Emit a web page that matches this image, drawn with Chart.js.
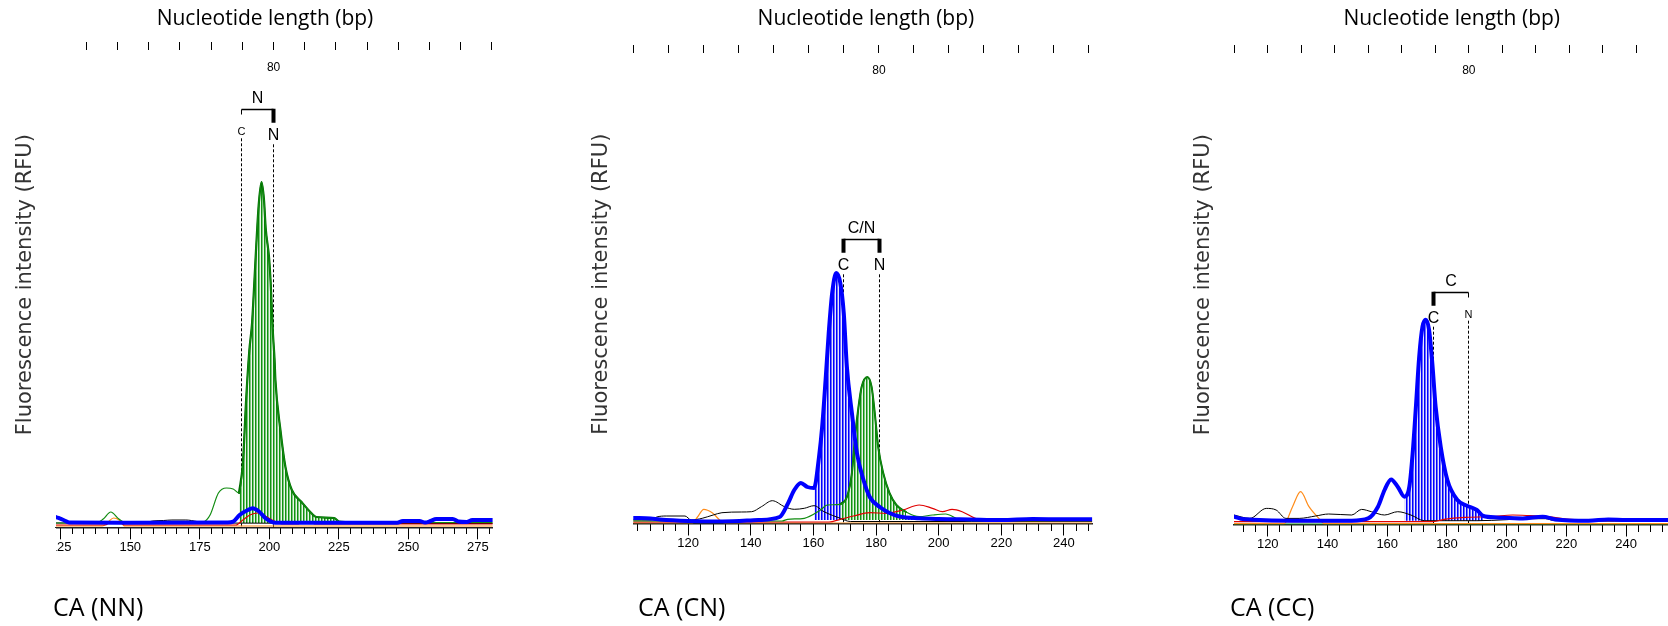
<!DOCTYPE html>
<html>
<head>
<meta charset="utf-8">
<title>CA genotype electropherograms</title>
<script src="https://cdn.jsdelivr.net/npm/chart.js@4.4.1/dist/chart.umd.min.js"></script>
<style>
    html, body { margin: 0; padding: 0; background: #ffffff; overflow: hidden; }
    #page { position: relative; width: 1668px; height: 626px; overflow: hidden; }
    #page canvas { position: absolute; top: 0; }
    .caption { position: absolute; top: 594px; font-family: 'Open Sans', sans-serif; font-size: 25px; line-height: 25px; color: #000; white-space: nowrap; }
</style>
</head>
<body>
<div id="page">
    <canvas id="chartNN"></canvas>
    <canvas id="chartCN"></canvas>
    <canvas id="chartCC"></canvas>
</div>
<script>
// Traces: [fragment size (bp), signal above baseline]

// CA (NN)
const nnGreen = [[123.3, 0], [137.7, 0], [140.3, 4], [143.0, 11], [145.9, 4], [148.8, 0], [174.0, 0], [176.4, 1], [178.7, 8], [181.7, 30], [184.6, 35], [187.0, 34], [189.1, 30], [190.5, 60], [191.7, 125], [192.8, 172], [193.8, 200], [194.6, 240], [195.2, 272], [195.8, 302], [196.3, 322], [197.2, 341], [198.1, 323], [198.7, 295], [199.9, 266], [200.5, 240], [201.3, 190], [201.9, 163], [202.2, 143], [204.0, 93], [205.8, 56], [208.1, 33], [211.6, 21], [215.1, 10], [216.9, 6], [223.3, 5], [225.1, 1.5], [231.4, 0.7], [240, 0.5], [280.3, 0.5]];
const nnBlue = [[123.3, 6], [126, 3], [128, 0.5], [150, 0.3], [185, 0.5], [187.0, 1.3], [189.3, 8], [192.3, 13], [194.0, 14.7], [196.3, 11.5], [198.7, 4.7], [202.2, 0.3], [246, 0.3], [248, 2], [254, 2], [256, 0.5], [258, 2], [260, 4], [266, 4], [268, 1.5], [271, 1], [273, 3], [280.3, 3]];
const nnRed = [[123.3, -2], [141, -2], [143, 1], [146, 1], [148, -2], [188, -2], [190.5, 3], [193, 8], [196, 10], [198.5, 7], [201, 3], [203.5, 0], [205, -1], [210.5, -1], [211, 1.5], [215.7, 1.5], [216.2, -1], [280.3, -1]];
const nnBlack = [[123.3, 0], [155, 0], [158, 2], [162, 2.5], [165, 3], [170, 3], [174, 1.5], [177, 0], [280.3, -0.5]];
const nnOrange = [[123.3, -3], [140, -3], [142, 1], [144, 5], [146, 3], [148, -3], [280.3, -3]];
const nnGreenCall = [189.1, 232];
const nnMarkers = [189.9, 201.2];

// CA (CN)
const cnBlue = [[102.5, 2], [108, 1.5], [111, 0.5], [120, -1], [131, -1.5], [142.4, 0], [149.2, 3], [151.8, 16], [153.9, 30], [156.0, 37], [158.1, 33], [160.2, 32], [161.8, 63], [162.8, 93], [163.9, 140], [164.9, 187], [166.0, 227], [167.3, 247], [168.6, 237], [169.7, 207], [170.7, 153], [172.3, 107], [173.9, 67], [176.0, 40], [178.0, 23], [181.2, 13], [184.3, 7], [187.5, 3.5], [193.8, 1.7], [200, 1], [210, 0.5], [220, 0], [230, 1], [240, 0.7], [249, 0.7]];
const cnGreen = [[102.5, -1], [150, -1], [151.8, 0.7], [157.1, 1.7], [162.3, 10], [164.4, 15], [168.6, 15.7], [170.7, 23], [172.3, 47], [173.3, 83], [174.4, 113], [175.4, 133], [177.2, 143], [178.6, 133], [179.6, 107], [180.7, 73], [182.3, 47], [184.3, 27], [186.5, 15], [189.6, 8], [193.8, 3.3], [198.0, 5], [202.2, 6], [206.4, 0.7], [212, -1], [249, -1]];
const cnBlack = [[102.5, 0], [108, 0], [110, 3], [113, 4], [119, 4], [121, 0], [124.5, 1.7], [128, 5], [130.8, 7.3], [137, 8], [140.3, 8.3], [143.4, 13.3], [146.9, 19.3], [150.8, 13.3], [153.9, 10.7], [157.1, 11.7], [160.2, 14.3], [163.4, 8.3], [168.6, 1.7], [171.8, -1.5], [249, -1.5]];
const cnRed = [[102.5, -2], [165, -2], [168.6, 0.7], [172.8, 4], [178, 7.3], [183.3, 6.7], [188.6, 10], [193.8, 15], [198, 11.7], [201.2, 8.3], [204.3, 10.7], [207.5, 8.3], [211.7, 1.7], [216.9, 0], [222, -1], [249, -1]];
const cnOrange = [[102.5, -3], [121.4, -3], [123, 3], [125, 10.7], [127.7, 7.3], [130.8, -2], [132, -3], [249, -3]];
const cnBlueCall = [160.2, 194];
const cnGreenCall = [168.6, 192];
const cnMarkers = [169.4, 180.9];

// CA (CC)
const ccBlue = [[108.7, 4], [111, 2], [115, 1], [128.3, 0], [148.1, 0], [153.6, 2.3], [156.9, 14], [159.1, 30.7], [161.3, 41.3], [163.5, 34], [165.8, 24], [167.4, 34], [168.5, 67], [169.6, 114], [170.7, 164], [171.8, 194], [172.9, 201], [174.0, 191], [175.1, 157], [176.2, 114], [177.9, 74], [180.1, 41], [183.4, 21], [186.7, 15], [190.0, 10.7], [192.2, 4.7], [196.6, 3.3], [205.4, 2.3], [212.0, 4], [216.4, 1.3], [227.4, 0], [234, 1.3], [240, 0.7], [256.1, 0.7]];
const ccBlack = [[108.7, 5.7], [114, 2.3], [119.5, 12.3], [122.8, 10.7], [126.1, 2.3], [130.5, 2.3], [136, 4.7], [140.4, 6.7], [148.1, 5.7], [151.4, 11.3], [154.7, 9], [159.1, 5.7], [163.5, 9], [167.9, 5.7], [172.4, 0], [190, 0], [200, 1], [205, 2], [213, 2], [216, 0], [256.1, -0.5]];
const ccOrange = [[108.7, -3], [125.5, -3], [128.3, 14], [131, 29], [133.8, 14], [137.1, 2.3], [139, -3], [256.1, -3]];
const ccRed = [[108.7, -1], [175, -1], [179, 1.3], [186, 3.3], [195, 4], [202, 5.7], [208, 5], [214, 4], [220, 1.5], [230, 0], [256.1, 0]];
const ccGreen = [[108.7, -3.5], [256.1, -3.5]];
const ccBlueCall = [165.8, 193.3];
const ccMarkers = [175.4, 187.2];

const alleleNames = ['C', 'N'];
const genotypeCalls = ['N', 'C/N', 'C'];
const panelNames = ['CA (NN)', 'CA (CN)', 'CA (CC)'];
const rulerLabel = 80;

const colors = {
    blue: '#0000ff',
    green: '#118c11',
    darkGreen: '#006b00',
    red: '#e00000',
    black: '#000000',
    orange: '#ff8c1a'
};

// Page geometry of each panel (pixels) and its axis ranges
const layouts = [
    { id: 'chartNN', left: 0, areaLeft: 56, areaRight: 501.7, areaTop: 42, areaBottom: 527.3, baseline: 523,
      titleX: 265, titleY: 19, yTitleX: 26, bpMin: 123.3, bpMax: 280.3, major: 25, minor: 25 / 6,
      rulerMin: 10.27, rulerMax: 150.2, bracketY: 109.3, captionX: 53 },
    { id: 'chartCN', left: 560, areaLeft: 633.3, areaRight: 1098.6, areaTop: 45, areaBottom: 523.5, baseline: 520,
      titleX: 865.9, titleY: 19, yTitleX: 601.5, bpMin: 102.5, bpMax: 249, major: 20, minor: 4,
      rulerMin: 9.8, rulerMax: 140.9, bracketY: 239.3, captionX: 638 },
    { id: 'chartCC', left: 1160, areaLeft: 1234, areaRight: 1680, areaTop: 45, areaBottom: 524.5, baseline: 520.7,
      titleX: 1451.7, titleY: 19, yTitleX: 1203.3, bpMin: 108.7, bpMax: 256.1, major: 20, minor: 4,
      rulerMin: 9.95, rulerMax: 141.3, bracketY: 291.7, captionX: 1230 }
];

function toPoints(pairs) {
    return pairs.map(([x, y]) => ({ x: x, y: y }));
}

function inRange(pairs, range) {
    return toPoints(pairs).filter(p => p.x >= range[0] && p.x <= range[1]);
}

// Vertical hatching used for the called peaks
function hatch(dark, mid, light) {
    const c = document.createElement('canvas');
    c.width = 3;
    c.height = 4;
    const g = c.getContext('2d');
    [dark, mid, light].forEach((col, i) => {
        g.fillStyle = col;
        g.fillRect(i, 0, 1, 4);
    });
    return g.createPattern(c, 'repeat');
}

function stepTicks(min, max, step) {
    const out = [];
    for (let k = Math.ceil(min / step - 1e-6); k * step <= max + 1e-6; k++) {
        out.push({ value: +(k * step).toFixed(4) });
    }
    return out;
}

// Bin markers, dashed bin lines and the genotype bracket
const alleleMarks = {
    id: 'alleleMarks',
    beforeDatasetsDraw(chart, args, opts) {
        const { ctx, chartArea, scales: { x, y } } = chart;
        const yb = y.getPixelForValue(opts.bracket);
        const called = opts.call.split('/');
        ctx.save();
        ctx.strokeStyle = '#000';
        ctx.lineWidth = 1;
        ctx.setLineDash([3, 2]);
        opts.bp.forEach((v, i) => {
            const px = Math.round(x.getPixelForValue(v)) + 0.5;
            const start = called.includes(opts.names[i]) ? 35 : 29;
            ctx.beginPath();
            ctx.moveTo(px, yb + start);
            ctx.lineTo(px, chartArea.bottom);
            ctx.stroke();
        });
        ctx.restore();
    },
    afterDatasetsDraw(chart, args, opts) {
        const { ctx, scales: { x, y } } = chart;
        const yb = Math.round(y.getPixelForValue(opts.bracket)) + 0.5;
        const xs = opts.bp.map(v => Math.round(x.getPixelForValue(v)) + 0.5);
        const called = opts.call.split('/');
        ctx.save();
        ctx.strokeStyle = '#000';
        ctx.fillStyle = '#000';
        ctx.lineWidth = 1.5;
        ctx.beginPath();
        ctx.moveTo(xs[0], yb);
        ctx.lineTo(xs[1], yb);
        ctx.stroke();
        ctx.textAlign = 'center';
        ctx.textBaseline = 'middle';
        ctx.font = '16px "Liberation Sans"';
        ctx.fillText(opts.call, (xs[0] + xs[1]) / 2, yb - 11);
        xs.forEach((px, i) => {
            const isCalled = called.includes(opts.names[i]);
            if (isCalled) {
                ctx.fillRect(px - 2, yb - 0.75, 4, 14);
                ctx.font = '16px "Liberation Sans"';
                ctx.fillText(opts.names[i], px, yb + 26);
            } else {
                ctx.fillRect(px - 0.5, yb, 1, 5);
                ctx.font = '11px "Liberation Sans"';
                ctx.fillText(opts.names[i], px, yb + 22);
            }
        });
        ctx.restore();
    },
    afterDraw(chart) {
        // the screenshots are cropped at the left edge of the trace window
        const { ctx, chartArea } = chart;
        ctx.clearRect(0, chartArea.bottom + 1, chartArea.left, chart.height - chartArea.bottom);
    }
};

function makePanel(p, name, call, markers, lines, fills) {
    const canvas = document.getElementById(p.id);
    const width = Math.ceil(p.areaRight - p.left);
    canvas.width = width;
    canvas.height = 626;
    canvas.style.left = p.left + 'px';
    canvas.style.width = width + 'px';
    canvas.style.height = '626px';

    const lineH = 21 * 1.2;
    const padLeft = 2 * p.titleX - p.areaRight - p.left;
    const padRight = width - (p.areaRight - p.left);
    const yWidth = p.areaLeft - p.left - padLeft;
    const xHeight = 40;
    const yMin = -(p.areaBottom - p.baseline);
    const yMax = p.baseline - p.areaTop;

    const datasets = [];
    fills.forEach(f => {
        datasets.push({
            data: inRange(f.data, f.range),
            fill: 'origin',
            backgroundColor: f.pattern,
            borderColor: f.edge,
            borderWidth: f.edgeWidth,
            order: f.order
        });
    });
    lines.forEach(l => {
        datasets.push({
            data: toPoints(l.data),
            fill: false,
            borderColor: l.color,
            borderWidth: l.width,
            order: l.order
        });
    });

    new Chart(canvas, {
        type: 'line',
        data: { datasets: datasets },
        options: {
            responsive: false,
            animation: false,
            events: [],
            layout: { padding: { left: padLeft, right: padRight, top: 0, bottom: 626 - p.areaBottom - xHeight } },
            elements: {
                point: { radius: 0 },
                line: { cubicInterpolationMode: 'monotone', borderJoinStyle: 'round', borderCapStyle: 'round' }
            },
            plugins: {
                legend: { display: false },
                tooltip: { enabled: false },
                title: {
                    display: true,
                    text: 'Nucleotide length (bp)',
                    color: '#000',
                    font: { family: 'Open Sans', size: 21, weight: 'normal' },
                    padding: { top: p.titleY - lineH / 2, bottom: p.areaTop - p.titleY - lineH / 2 }
                },
                alleleMarks: { bp: markers, names: alleleNames, call: call, bracket: p.baseline - p.bracketY }
            },
            scales: {
                x: {
                    type: 'linear',
                    position: 'bottom',
                    min: p.bpMin,
                    max: p.bpMax,
                    afterBuildTicks: s => { s.ticks = stepTicks(p.bpMin, p.bpMax, p.major); },
                    afterFit: s => { s.height = xHeight; },
                    grid: { drawOnChartArea: false, drawTicks: true, tickLength: 12, tickColor: '#000' },
                    border: { display: true, color: '#222', width: 1.5 },
                    ticks: { autoSkip: false, maxRotation: 0, padding: 0, color: '#000',
                             font: { family: 'Liberation Sans', size: 13 } }
                },
                xm: {
                    type: 'linear',
                    position: { y: yMin },
                    min: p.bpMin,
                    max: p.bpMax,
                    afterBuildTicks: s => { s.ticks = stepTicks(p.bpMin, p.bpMax, p.minor); },
                    grid: { drawOnChartArea: false, drawTicks: true, tickLength: 7, tickColor: '#000' },
                    border: { display: false },
                    ticks: { display: false, autoSkip: false }
                },
                xr: {
                    type: 'linear',
                    position: { y: yMax },
                    min: p.rulerMin,
                    max: p.rulerMax,
                    afterBuildTicks: s => { s.ticks = stepTicks(p.rulerMin, p.rulerMax, 10); },
                    grid: { drawOnChartArea: false, drawTicks: true, tickLength: 8, tickColor: '#000' },
                    border: { display: false },
                    ticks: {
                        autoSkip: false, maxRotation: 0, padding: 10, color: '#000',
                        font: { family: 'Liberation Sans', size: 12 },
                        callback: v => (v === rulerLabel ? String(v) : '')
                    }
                },
                y: {
                    type: 'linear',
                    position: 'left',
                    min: yMin,
                    max: yMax,
                    afterFit: s => { s.width = yWidth; },
                    grid: { display: false },
                    border: { display: false },
                    ticks: { display: false },
                    title: {
                        display: true,
                        text: 'Fluorescence intensity (RFU)',
                        color: '#333',
                        font: { family: 'DejaVu Sans', size: 21 },
                        padding: { top: (p.yTitleX - p.left) - padLeft - lineH / 2, bottom: 0 }
                    }
                }
            }
        },
        plugins: [alleleMarks]
    });

    const cap = document.createElement('div');
    cap.className = 'caption';
    cap.style.left = p.captionX + 'px';
    cap.textContent = name;
    document.getElementById('page').appendChild(cap);
}

const greenHatch = hatch('#119211', '#7cc77c', '#eaf6ea');
const blueHatch = hatch('#0000ff', '#6a6aff', '#e6e6ff');

makePanel(layouts[0], panelNames[0], genotypeCalls[0], nnMarkers, [
    { data: nnBlue, color: colors.blue, width: 4, order: 0 },
    { data: nnGreen, color: colors.green, width: 1.2, order: 1 },
    { data: nnRed, color: colors.red, width: 1.2, order: 2 },
    { data: nnBlack, color: colors.black, width: 1, order: 3 },
    { data: nnOrange, color: colors.orange, width: 1.2, order: 4 }
], [
    { data: nnGreen, range: nnGreenCall, pattern: greenHatch, edge: colors.darkGreen, edgeWidth: 2.2, order: 5 }
]);

makePanel(layouts[1], panelNames[1], genotypeCalls[1], cnMarkers, [
    { data: cnBlue, color: colors.blue, width: 4, order: 0 },
    { data: cnGreen, color: colors.green, width: 1.2, order: 1 },
    { data: cnRed, color: colors.red, width: 1.2, order: 2 },
    { data: cnBlack, color: colors.black, width: 1, order: 3 },
    { data: cnOrange, color: colors.orange, width: 1.2, order: 4 }
], [
    { data: cnGreen, range: cnGreenCall, pattern: greenHatch, edge: colors.darkGreen, edgeWidth: 2, order: 5 },
    { data: cnBlue, range: cnBlueCall, pattern: blueHatch, edge: colors.blue, edgeWidth: 0, order: 6 }
]);

makePanel(layouts[2], panelNames[2], genotypeCalls[2], ccMarkers, [
    { data: ccBlue, color: colors.blue, width: 4, order: 0 },
    { data: ccRed, color: colors.red, width: 1.2, order: 2 },
    { data: ccBlack, color: colors.black, width: 1, order: 3 },
    { data: ccOrange, color: colors.orange, width: 1.2, order: 4 },
    { data: ccGreen, color: colors.green, width: 1.2, order: 5 }
], [
    { data: ccBlue, range: ccBlueCall, pattern: blueHatch, edge: colors.blue, edgeWidth: 0, order: 6 }
]);
</script>
</body>
</html>
